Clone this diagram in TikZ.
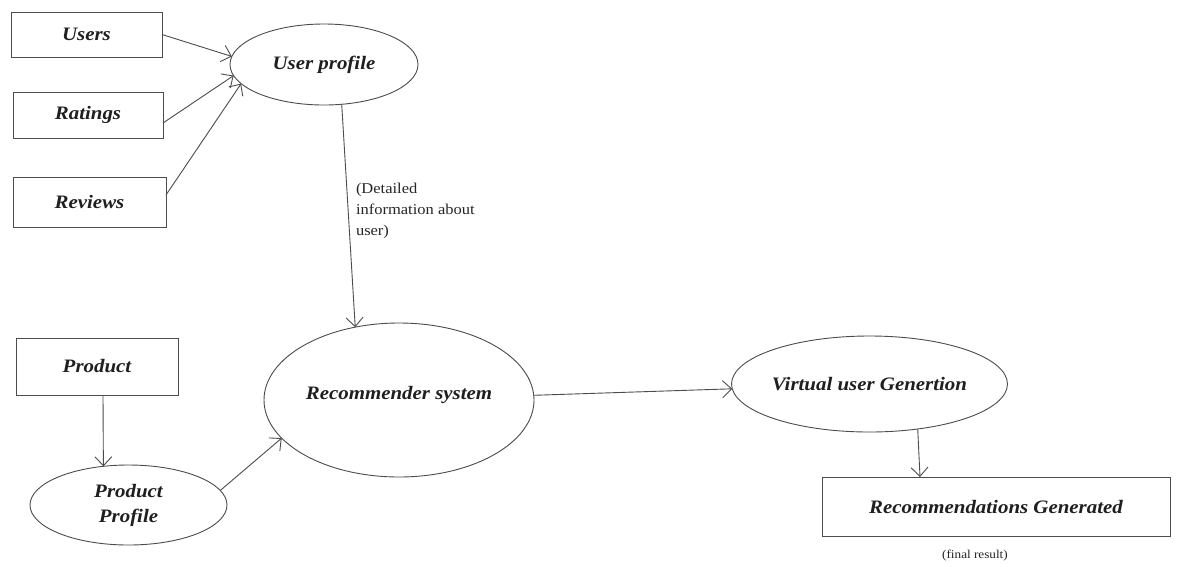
\documentclass[tikz,border=0pt]{standalone}
\usepackage{fontspec}
\setmainfont{Liberation Serif}[FakeStretch=1.1]
\usetikzlibrary{arrows.meta,shapes.geometric}
\begin{document}
\begin{tikzpicture}[x=1pt,y=-1pt,
  every node/.style={inner sep=0pt, outer sep=0pt},
  lab/.style={font=\bfseries\itshape\fontsize{19}{25}\selectfont, text=black!88, align=center},
  box/.style={lab, draw=black!70, line width=0.9pt, rectangle},
  oval/.style={lab, draw=black!70, line width=0.9pt, ellipse},
  conn/.style={draw=black!70, line width=0.9pt, -{Straight Barb[length=9pt,width=17pt]}},
  note/.style={font=\fontsize{15}{21}\selectfont, text=black!85, align=left}
]
\fill[white] (0,0) rectangle (1181,566);
\useasboundingbox (0,0) rectangle (1181,566);

% boxes
\node[box, minimum width=151pt, minimum height=45pt] (users) at (86.5,34.5) {Users};
\node[box, minimum width=150pt, minimum height=46pt] (ratings) at (88,115) {Ratings};
\node[box, minimum width=153pt, minimum height=50pt] (reviews) at (89.5,202) {Reviews};
\node[box, minimum width=162pt, minimum height=57pt] (product) at (97,366.5) {Product};
\node[box, minimum width=348pt, minimum height=59pt] (recgen) at (996,506.5) {Recommendations Generated};

% ellipses
\node[oval, minimum width=188pt, minimum height=81pt] (uprof) at (324,64.5) {User profile};
\node[oval, minimum width=197pt, minimum height=80pt] (pprof) at (128.5,505) {Product\\Profile};
\node[oval, minimum width=270pt, minimum height=154pt, text height=13pt, text depth=14pt] (recsys) at (399,400) {Recommender system};
\node[oval, minimum width=275pt, minimum height=96pt] (virt) at (869.5,384) {Virtual user Genertion};

% notes
\node[note, anchor=west] (detail) at (356,211) {(Detailed\\information about\\user)};
\node[font=\fontsize{12}{14}\selectfont, text=black!85] (final) at (975,556) {(final result)};

% connectors
\draw[conn] (users.east) -- (uprof.175);
\draw[conn] ([yshift=-8pt]ratings.east) -- (uprof.187);
\draw[conn] ([yshift=7pt]reviews.east) -- (uprof.193);
\draw[conn] (uprof.294) -- (recsys.121);
\draw[conn] ([xshift=6pt]product.south) -- (pprof.123);
\draw[conn] (pprof.9) -- (recsys.198);
\draw[conn] (recsys.2) -- (virt.182);
\draw[conn] (virt.317) -- ([xshift=-76pt]recgen.north);
\end{tikzpicture}
\end{document}
